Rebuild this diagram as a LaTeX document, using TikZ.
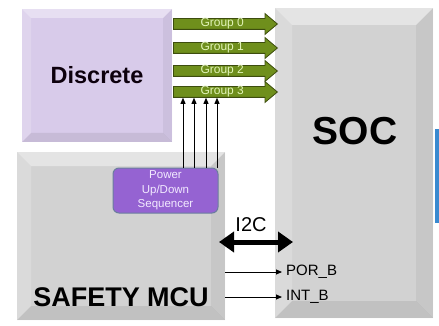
\documentclass[tikz,border=0pt]{standalone}
\usepackage{fontspec}
\setmainfont{Liberation Sans}
\usetikzlibrary{shapes.arrows,arrows.meta}

\definecolor{discreteFill}{HTML}{D8CBEA}
\definecolor{chipGrey}{HTML}{D2D2D2}
\definecolor{groupGreen}{HTML}{6F8F1C}
\definecolor{groupEdge}{HTML}{3D4D0E}
\definecolor{groupText}{HTML}{E2F4B8}
\definecolor{seqFill}{HTML}{9563D2}
\definecolor{seqEdge}{HTML}{6B7E9E}
\definecolor{seqText}{HTML}{F2EAFF}
\definecolor{busBlue}{HTML}{3A8AD0}

\begin{document}
\begin{tikzpicture}[x=1pt, y=-1pt,
    bevelBox/.style 2 args={fill=#1, draw=none, inner sep=0pt, path picture={
        \fill[white, opacity=.4] (path picture bounding box.north west) -- (path picture bounding box.north east)
            -- ([shift={(-#2,-#2)}]path picture bounding box.north east) -- ([shift={(#2,-#2)}]path picture bounding box.north west) -- cycle;
        \fill[white, opacity=.18] (path picture bounding box.north west) -- ([shift={(#2,-#2)}]path picture bounding box.north west)
            -- ([shift={(#2,#2)}]path picture bounding box.south west) -- (path picture bounding box.south west) -- cycle;
        \fill[black, opacity=.05] (path picture bounding box.north east) -- ([shift={(-#2,-#2)}]path picture bounding box.north east)
            -- ([shift={(-#2,#2)}]path picture bounding box.south east) -- (path picture bounding box.south east) -- cycle;
        \fill[black, opacity=.08] (path picture bounding box.south west) -- ([shift={(#2,#2)}]path picture bounding box.south west)
            -- ([shift={(-#2,#2)}]path picture bounding box.south east) -- (path picture bounding box.south east) -- cycle;
    }},
    groupArrow/.style={single arrow, fill=groupGreen, draw=groupEdge, line width=0.8pt, minimum height=104pt,
        inner xsep=2pt, inner ysep=0pt, text height=8pt, text depth=2pt, single arrow head extend=5pt,
        single arrow tip angle=80, anchor=tail, text=groupText, font=\fontsize{12}{12}\selectfont},
    seqBox/.style={rounded corners=6pt, fill=seqFill, draw=seqEdge, line width=1pt, minimum width=105pt,
        minimum height=45pt, align=center, text=seqText, inner sep=1pt, font=\fontsize{11.5}{14.5}\selectfont},
    sigLabel/.style={anchor=west, inner sep=2pt, font=\fontsize{15}{16}\selectfont},
    pinArrow/.style={-{Triangle[length=6pt,width=5pt]}, line width=0.9pt}]
    \useasboundingbox (0,0) rectangle (439,326);

    % blocks
    \node[bevelBox={chipGrey}{17pt}, minimum width=158pt, minimum height=310pt] (soc) at (354,163) {};
    \node[font=\fontsize{39}{40}\selectfont\bfseries] (socLabel) at (355,131) {SOC};
    \node[fill=busBlue, minimum width=8pt, minimum height=94pt, inner sep=0pt, anchor=north west] (bus) at (435,129) {};

    \node[bevelBox={discreteFill}{9pt}, minimum width=150pt, minimum height=133pt, text=black!90!violet,
        font=\fontsize{23.5}{28}\selectfont\bfseries] (discrete) at (97,75.5) {Discrete};

    \node[bevelBox={chipGrey}{14pt}, minimum width=208pt, minimum height=168pt] (mcu) at (121,236) {};
    \node[font=\fontsize{27}{30}\selectfont\bfseries] (mcuLabel) at (121,297) {SAFETY MCU};
    \node[seqBox] (seq) at (165.5,190.5) {Power\\Up/Down\\Sequencer};

    % power groups
    \foreach \i/\y in {0/24,1/48,2/71,3/92}
        \node[groupArrow] (g\i) at (173,\y) {Group \i};
    \foreach \x in {183,194,206,217}
        \draw[pinArrow] (seq.north -| \x,0) -- (g3.south -| \x,0);

    % bus and signals
    \node[font=\fontsize{20}{22}\selectfont] (i2c) at (251,225) {I2C};
    \coordinate (i2cL) at (219,242);
    \coordinate (i2cR) at (293,242);
    \draw[line width=5pt, {Triangle[length=15pt,width=20pt]}-{Triangle[length=15pt,width=20pt]}] (i2cL) -- (i2cR);

    \node[sigLabel] (por) at (284,272) {POR\_B};
    \node[sigLabel] (int) at (284,297) {INT\_B};
    \draw[pinArrow, shorten >=2pt] (mcu.east |- por.west) -- (por.west);
    \draw[pinArrow, shorten >=2pt] (mcu.east |- int.west) -- (int.west);
\end{tikzpicture}
\end{document}
